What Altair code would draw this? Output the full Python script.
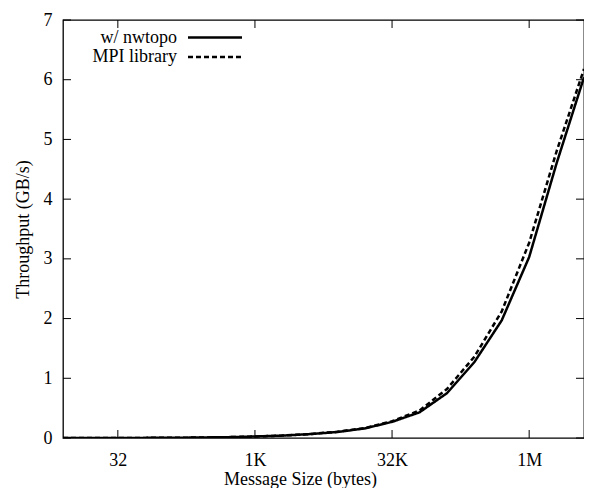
import altair as alt
import pandas as pd

# ---- data ----
sizes = [8, 16, 32, 64, 128, 256, 512, 1024, 2048, 4096, 8192, 16384, 32768,
         65536, 131072, 262144, 524288, 1048576, 2097152, 4194304]
nwtopo = [0.0003, 0.0006, 0.001, 0.002, 0.004, 0.008, 0.014, 0.025, 0.04, 0.065,
          0.10, 0.16, 0.27, 0.43, 0.75, 1.27, 1.97, 3.03, 4.60, 6.04]
mpi = [0.0003, 0.0006, 0.001, 0.002, 0.004, 0.008, 0.014, 0.025, 0.04, 0.066,
       0.105, 0.165, 0.28, 0.46, 0.82, 1.36, 2.12, 3.27, 4.80, 6.18]
series_names = ["w/ nwtopo", "MPI library"]
series_dash = [[1, 0], [5, 3]]

x_tick_values = [32, 1024, 32768, 1048576]
x_tick_labels = ["32", "1K", "32K", "1M"]
y_tick_values = [0, 1, 2, 3, 4, 5, 6, 7]

W, H = 521, 418
FONT = "Liberation Serif"
FS = 18

df = pd.DataFrame({
    "size": sizes * 2,
    "tp": nwtopo + mpi,
    "series": [series_names[0]] * len(sizes) + [series_names[1]] * len(sizes),
})

xscale = alt.Scale(type="log", base=2, domain=[8, 4194304], nice=False)
yscale = alt.Scale(domain=[0, 7], nice=False, zero=True)

label_expr = " : ".join(
    f"datum.value == {v} ? '{l}'" for v, l in zip(x_tick_values, x_tick_labels)
) + " : ''"

x_axis = alt.Axis(values=x_tick_values, labelExpr=label_expr, ticks=False,
                  domain=False, grid=False, labelPadding=27,
                  labelBaseline="alphabetic",
                  title="Message Size (bytes)", titleY=46,
                  titleBaseline="alphabetic", titleAlign="center", titleX=237)
y_axis = alt.Axis(values=y_tick_values, ticks=False, domain=False, grid=False,
                  labelPadding=11, title="Throughput (GB/s)",
                  titleX=-35, titleY=H / 2, titleAngle=270,
                  titleBaseline="alphabetic", titleAlign="center")

lines = alt.Chart(df).mark_line(color="black", strokeWidth=2.5, clip=True).encode(
    x=alt.X("size:Q", scale=xscale, axis=x_axis),
    y=alt.Y("tp:Q", scale=yscale, axis=y_axis),
    strokeDash=alt.StrokeDash("series:N",
                              scale=alt.Scale(domain=series_names, range=series_dash),
                              legend=None),
    detail="series:N",
)

ydf = pd.DataFrame({"v": y_tick_values})
xdf = pd.DataFrame({"v": x_tick_values})
TL = 8

left_ticks = alt.Chart(ydf).mark_rule(color="black").encode(
    y=alt.Y("v:Q", scale=yscale, axis=y_axis), x=alt.value(0), x2=alt.value(TL))
right_ticks = alt.Chart(ydf).mark_rule(color="black").encode(
    y=alt.Y("v:Q", scale=yscale, axis=y_axis), x=alt.value(W - TL), x2=alt.value(W))
bottom_ticks = alt.Chart(xdf).mark_rule(color="black").encode(
    x=alt.X("v:Q", scale=xscale, axis=x_axis), y=alt.value(H), y2=alt.value(H - TL))
top_ticks = alt.Chart(xdf).mark_rule(color="black").encode(
    x=alt.X("v:Q", scale=xscale, axis=x_axis), y=alt.value(0), y2=alt.value(TL))

# custom legend (label right-aligned, sample line to its right)
legend_layers = []
for i, (name, dash) in enumerate(zip(series_names, series_dash)):
    ly = 17.5 + i * 19.5
    ldf = pd.DataFrame({"series": [name]})
    legend_layers.append(
        alt.Chart(ldf).mark_text(align="right", baseline="middle", font=FONT,
                                 fontSize=FS, color="black").encode(
            text="series:N", x=alt.value(114), y=alt.value(ly)))
    legend_layers.append(
        alt.Chart(ldf).mark_rule(color="black", strokeWidth=2.5, strokeDash=dash).encode(
            x=alt.value(125), x2=alt.value(179), y=alt.value(ly)))

chart = alt.layer(lines, left_ticks, right_ticks, bottom_ticks, top_ticks,
                  *legend_layers).properties(
    width=W, height=H,
    autosize=alt.AutoSizeParams(type="none"),
    padding={"left": 55, "top": 12, "right": 0, "bottom": 50},
).configure_view(
    stroke="black", strokeWidth=1.3
).configure_axis(
    labelFont=FONT, titleFont=FONT, labelFontSize=FS, titleFontSize=FS,
    titleFontWeight="normal", labelColor="black", titleColor="black",
)

chart.save("out.html", embed_options={"renderer": "svg", "actions": False})
